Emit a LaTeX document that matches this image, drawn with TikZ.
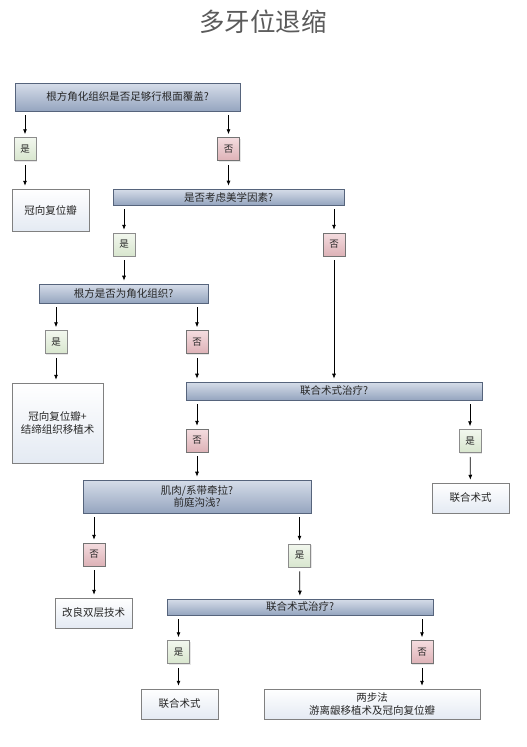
\documentclass[tikz,border=0pt]{standalone}
\usepackage{fontspec}
\setmainfont{Noto Sans CJK SC}
\usetikzlibrary{arrows.meta,shadows}
\definecolor{asktop}{HTML}{D6DDE9}
\definecolor{askbot}{HTML}{95A5BF}
\definecolor{askline}{HTML}{56647C}
\definecolor{yestop}{HTML}{F2F7EE}
\definecolor{yesbot}{HTML}{D8E6CE}
\definecolor{notop}{HTML}{F4DCDF}
\definecolor{nobot}{HTML}{DDB2B7}
\definecolor{endbot}{HTML}{E4EAF3}
\definecolor{titlegray}{HTML}{5A5A5A}

\begin{document}
\begin{tikzpicture}[x=1pt,y=-1pt]
\tikzstyle{every node}+=[inner sep=1pt, text=black!85, align=center, font=\fontsize{10.5}{12.5}\selectfont]
\tikzstyle{every edge}+=[draw, line width=0.7pt, -{Latex[length=5pt,width=4pt]}, shorten <=4pt, shorten >=3pt]
\tikzstyle{ask}=[draw=askline, line width=0.6pt, top color=asktop, bottom color=askbot, drop shadow={opacity=0.25, shadow xshift=1pt, shadow yshift=-1pt}]
\tikzstyle{yes}=[draw=black!45, line width=0.5pt, top color=yestop, bottom color=yesbot, minimum width=22pt, minimum height=23pt, font=\fontsize{9.5}{11}\selectfont, drop shadow={opacity=0.2, shadow xshift=1pt, shadow yshift=-1pt}]
\tikzstyle{no}=[yes, draw=black!55, top color=notop, bottom color=nobot]
\tikzstyle{result}=[draw=black!50, line width=0.5pt, top color=white, bottom color=endbot, drop shadow={opacity=0.2, shadow xshift=1pt, shadow yshift=-1pt}]

\useasboundingbox (0,0) rectangle (527,747);

\node (title) [text=titlegray, font=\fontsize{25.5}{30}\selectfont] at (263,22) {多牙位退缩};

\node (q1) [ask, minimum width=225pt, minimum height=28pt] at (127.5,97)  {根方角化组织是否足够行根面覆盖?};
\node (y1) [yes] at (25,149)    {是};
\node (n1) [no]  at (228.5,149) {否};
\node (r1) [result, minimum width=77pt, minimum height=42pt] at (50.5,210) {冠向复位瓣};

\node (q2) [ask, minimum width=231pt, minimum height=16pt] at (228.5,197) {是否考虑美学因素?};
\node (y2) [yes] at (124,244.5) {是};
\node (n2) [no]  at (334,244.5) {否};

\node (q3) [ask, minimum width=169pt, minimum height=19pt] at (123.5,293.5) {根方是否为角化组织?};
\node (y3) [yes] at (56,342)  {是};
\node (n3) [no]  at (197,342) {否};
\node (r2) [result, minimum width=91pt, minimum height=80pt] at (57.5,423) {冠向复位瓣+\\结缔组织移植术};

\node (q4) [ask, minimum width=296pt, minimum height=18pt] at (334,391) {联合术式治疗?};
\node (n4) [no]  at (197,440.5) {否};
\node (y4) [yes] at (470,441)   {是};
\node (r3) [result, minimum width=77pt, minimum height=30pt] at (470.5,498) {联合术式};

\node (q5) [ask, minimum width=228pt, minimum height=33pt] at (197,496.5) {肌肉/系带牵拉?\\前庭沟浅?};
\node (n5) [no]  at (94,554.5)    {否};
\node (y5) [yes] at (299.5,555.5) {是};
\node (r4) [result, minimum width=77pt, minimum height=30pt] at (93.5,613) {改良双层技术};

\node (q6) [ask, minimum width=266pt, minimum height=16pt] at (300,607) {联合术式治疗?};
\node (y6) [yes] at (178.5,652) {是};
\node (n6) [no]  at (422,652)   {否};
\node (r5) [result, minimum width=77pt, minimum height=30pt] at (179.5,704) {联合术式};
\node (r6) [result, minimum width=216pt, minimum height=30pt] at (372,704) {两步法\\游离龈移植术及冠向复位瓣};

\path (q1.south -| y1) edge (y1)
      (q1.south -| n1) edge (n1)
      (y1) edge (y1 |- r1.north)
      (n1) edge (q2)
      (q2.south -| y2) edge (y2)
      (q2.south -| n2) edge (n2)
      (y2) edge (y2 |- q3.north)
      (n2) edge (q4)
      (q3.south -| y3) edge (y3)
      (q3.south -| n3) edge (n3)
      (y3) edge (y3 |- r2.north)
      (n3) edge (n3 |- q4.north)
      (q4.south -| n4) edge (n4)
      (q4.south -| y4) edge (y4)
      (n4) edge (q5)
      (y4) edge (r3)
      (q5.south -| n5) edge (n5)
      (q5.south -| y5) edge (y5)
      (n5) edge (n5 |- r4.north)
      (y5) edge (q6)
      (q6.south -| y6) edge (y6)
      (q6.south -| n6) edge (n6)
      (y6) edge (y6 |- r5.north)
      (n6) edge (n6 |- r6.north);
\end{tikzpicture}
\end{document}
